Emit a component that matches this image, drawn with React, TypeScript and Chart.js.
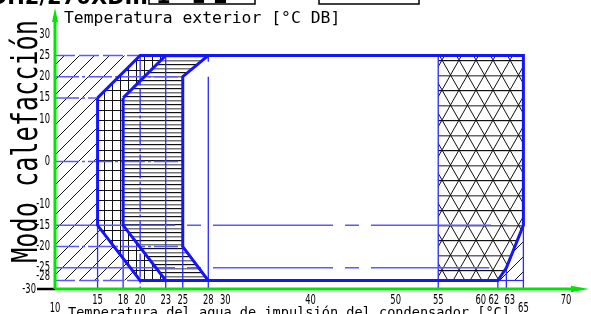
import React, { useEffect, useRef } from "react";
import { Chart, registerables } from "chart.js";

Chart.register(...registerables);

type P = [number, number];

// ---- tick labels ----
const xTickValues = [10, 15, 18, 20, 23, 25, 28, 30, 40, 50, 55, 60, 62, 63, 65, 70];
const xTickLowered = [10, 65];
const yTickValues = [30, 25, 20, 15, 10, 0, -10, -15, -20, -25, -28, -30];

// ---- titles ----
const titleLeft = "Modo calefacción";
const titleY = "Temperatura exterior [°C DB]";
const titleX = "Temperatura del agua de impulsión del condensador [°C]";
const headingText = "DH2/270XDIII";
const headingBox1 = "1 ' ▪ 2";

// ---- hatched regions (x = water temp, y = outdoor temp) ----
const regionDiagonal: P[] = [[10, 25], [20, 25], [15, 15], [15, -15], [20, -28], [10, -28]];
const regionGrid: P[] = [[15, 15], [20, 25], [23, 25], [18, 15], [18, -15], [23, -28], [20, -28], [15, -15]];
const regionHorizontal: P[] = [[18, 15], [23, 25], [28, 25], [25, 20], [25, -20], [28, -28], [23, -28], [18, -15]];
const regionTriangles: P[] = [[55, 25], [65, 25], [65, -15], [63, -25], [62, -28], [55, -28]];
const regionCorner: P[] = [[65, -15], [65, -28], [62, -28], [63, -25]];

// ---- envelopes (thick outlines) ----
const outerEnvelope: P[] = [[15, 15], [20, 25], [65, 25], [65, -15], [63, -25], [62, -28], [20, -28], [15, -15], [15, 15]];
const innerEnvelope: P[] = [[18, 15], [23, 25], [28, 25], [25, 20], [25, -20], [28, -28], [23, -28], [18, -15], [18, 15]];

// ---- thin reference lines ----
const hLine25: P[] = [[10, 25], [20, 25]];
const hLine20: P[] = [[10, 20], [25, 20]];
const hLine15: P[] = [[10, 15], [15, 15]];
const hLine0: P[] = [[10, 0], [25, 0]];
const hLineM15: P[] = [[10, -15], [63, -15]];
const hLineM20: P[] = [[10, -20], [25, -20]];
const hLineM25: P[] = [[10, -25], [61, -25]];
const hLineM28a: P[] = [[10, -28], [20, -28]];
const hLineM28b: P[] = [[62, -28], [65, -28]];
const vLine15: P[] = [[15, -15], [15, -30]];
const vLine18: P[] = [[18, -15], [18, -30]];
const vLine20: P[] = [[20, 25], [20, -30]];
const vLine23: P[] = [[23, 25], [23, -30]];
const vLine25: P[] = [[25, -20], [25, -30]];
const vLine28: P[] = [[28, 20], [28, -30]];
const vLine28top: P[] = [[28, 25], [28, 23.5]];
const vLine55: P[] = [[55, 25], [55, -30]];
const vLine62: P[] = [[62, -28], [62, -30]];
const vLine63: P[] = [[63, -25], [63, -30]];
const vLine65: P[] = [[65, -15], [65, -30]];

const THICK = "#1414ff";
const THIN = "#2a2aff";
const LIGHT = "#5a5aff";
const DASHDOT = [24, 3, 3, 3];
const LONGDASH = [120, 12, 14, 12];

const lineSpecs: { pts: P[]; color: string; width: number; dash?: number[] }[] = [
  { pts: outerEnvelope, color: THICK, width: 3 },
  { pts: innerEnvelope, color: THICK, width: 3 },
  { pts: hLine25, color: LIGHT, width: 1.5, dash: [20, 4] },
  { pts: hLine20, color: LIGHT, width: 1.5, dash: DASHDOT },
  { pts: hLine15, color: LIGHT, width: 1.5, dash: DASHDOT },
  { pts: hLine0, color: LIGHT, width: 1.5, dash: DASHDOT },
  { pts: hLineM15, color: LIGHT, width: 1.5, dash: LONGDASH },
  { pts: hLineM20, color: LIGHT, width: 1.5, dash: DASHDOT },
  { pts: hLineM25, color: LIGHT, width: 1.5, dash: LONGDASH },
  { pts: hLineM28a, color: LIGHT, width: 1.5, dash: [20, 4] },
  { pts: hLineM28b, color: THIN, width: 1.2 },
  { pts: vLine15, color: THIN, width: 1.3 },
  { pts: vLine18, color: THIN, width: 1.3 },
  { pts: vLine20, color: THIN, width: 1.3, dash: DASHDOT },
  { pts: vLine23, color: THIN, width: 1.3 },
  { pts: vLine25, color: THIN, width: 1.3 },
  { pts: vLine28, color: THIN, width: 1.3 },
  { pts: vLine28top, color: THIN, width: 1.3 },
  { pts: vLine55, color: THIN, width: 1.3 },
  { pts: vLine62, color: THIN, width: 1.3 },
  { pts: vLine63, color: THIN, width: 1.3 },
  { pts: vLine65, color: THIN, width: 1.3 },
];

const regionSpecs: { pts: P[]; hatch: string }[] = [
  { pts: regionDiagonal, hatch: "diag" },
  { pts: regionGrid, hatch: "grid" },
  { pts: regionHorizontal, hatch: "horiz" },
  { pts: regionTriangles, hatch: "tri" },
  { pts: regionCorner, hatch: "diag" },
];

const toXY = (pts: P[]) => pts.map(([x, y]) => ({ x, y }));

function makePatterns(ctx: CanvasRenderingContext2D) {
  const mk = (w: number, h: number, draw: (c: CanvasRenderingContext2D) => void) => {
    const cv = document.createElement("canvas");
    cv.width = w;
    cv.height = h;
    const c = cv.getContext("2d")!;
    draw(c);
    return ctx.createPattern(cv, "repeat")!;
  };
  return {
    diag: mk(15, 15, (c) => {
      c.strokeStyle = "#111";
      c.lineWidth = 1;
      c.beginPath();
      c.moveTo(-1, 16);
      c.lineTo(16, -1);
      c.stroke();
    }),
    grid: mk(8, 10, (c) => {
      c.fillStyle = "#111";
      c.fillRect(0, 0, 1, 10);
      c.fillRect(0, 0, 8, 1);
    }),
    horiz: mk(4, 8, (c) => {
      c.fillStyle = "#111";
      c.fillRect(0, 0, 4, 1.2);
      c.fillStyle = "#777";
      c.fillRect(0, 4, 4, 1.5);
    }),
    tri: mk(17, 30, (c) => {
      c.fillStyle = "#111";
      c.fillRect(0, 0, 17, 1.2);
      c.fillStyle = "#666";
      c.fillRect(0, 15, 17, 1.5);
      c.strokeStyle = "#111";
      c.lineWidth = 1;
      c.beginPath();
      c.moveTo(0, 0);
      c.lineTo(17, 30);
      c.moveTo(17, 0);
      c.lineTo(0, 30);
      c.stroke();
    }),
  } as Record<string, CanvasPattern>;
}

const hatchPlugin = {
  id: "hatchRegions",
  beforeDatasetsDraw(chart: any) {
    const ctx: CanvasRenderingContext2D = chart.ctx;
    const pats = makePatterns(ctx);
    chart.data.datasets.forEach((ds: any, i: number) => {
      if (!ds.hatch) return;
      const pts = chart.getDatasetMeta(i).data;
      ctx.save();
      ctx.beginPath();
      pts.forEach((p: any, k: number) => (k ? ctx.lineTo(p.x, p.y) : ctx.moveTo(p.x, p.y)));
      ctx.closePath();
      ctx.fillStyle = pats[ds.hatch];
      ctx.fill();
      ctx.restore();
    });
  },
};

function narrowText(
  ctx: CanvasRenderingContext2D,
  text: string,
  x: number,
  y: number,
  size: number,
  sx: number,
  align: CanvasTextAlign
) {
  ctx.save();
  ctx.translate(x, y);
  ctx.scale(sx, 1);
  ctx.font = `${size}px "DejaVu Sans"`;
  ctx.textAlign = align;
  ctx.textBaseline = "middle";
  ctx.fillStyle = "#000";
  ctx.fillText(text, 0, 0);
  ctx.restore();
}

const xLabelShift: Record<number, number> = { 62: -4, 63: 3.5 };

const decorPlugin = {
  id: "decor",
  afterDraw(chart: any) {
    const ctx: CanvasRenderingContext2D = chart.ctx;
    const xs = chart.scales.x;
    const ys = chart.scales.y;
    const area = chart.chartArea;
    const x0 = xs.getPixelForValue(10);
    const y0 = ys.getPixelForValue(-30);
    const GREEN = "#00e600";

    ctx.save();
    // black tick at -30
    ctx.strokeStyle = "#000";
    ctx.lineWidth = 2.5;
    ctx.beginPath();
    ctx.moveTo(37, y0);
    ctx.lineTo(x0, y0);
    ctx.stroke();

    // green axes
    ctx.strokeStyle = GREEN;
    ctx.fillStyle = GREEN;
    ctx.lineWidth = 3;
    ctx.beginPath();
    ctx.moveTo(x0, y0);
    ctx.lineTo(x0, area.top + 6);
    ctx.moveTo(x0, y0);
    ctx.lineTo(area.right - 8, y0);
    ctx.stroke();
    ctx.beginPath();
    ctx.moveTo(x0, area.top - 2);
    ctx.lineTo(x0 - 3, area.top + 12);
    ctx.lineTo(x0 + 3, area.top + 12);
    ctx.closePath();
    ctx.fill();
    ctx.beginPath();
    ctx.moveTo(area.right + 6, y0);
    ctx.lineTo(area.right - 12, y0 - 3.3);
    ctx.lineTo(area.right - 12, y0 + 3.3);
    ctx.closePath();
    ctx.fill();

    // x tick labels
    xTickValues.forEach((v) => {
      const px = xs.getPixelForValue(v) + (xLabelShift[v] || 0);
      const py = xTickLowered.includes(v) ? 308 : 300;
      narrowText(ctx, String(v), px, py, 13.5, 0.62, "center");
    });
    // y tick labels
    yTickValues.forEach((v) => {
      let py = ys.getPixelForValue(v);
      if (v === -28) py -= 4;
      if (v === -25) py -= 0.5;
      const px = v === -30 ? 36 : 50;
      narrowText(ctx, String(v), px, py, 13.5, 0.62, "right");
    });

    // axis titles
    ctx.fillStyle = "#000";
    ctx.textBaseline = "alphabetic";
    ctx.textAlign = "left";
    ctx.font = '16.4px "DejaVu Sans Mono"';
    ctx.fillText(titleY, 64, 23);
    ctx.font = '13.6px "DejaVu Sans Mono"';
    ctx.fillText(titleX, 68, 317);

    // rotated title
    ctx.save();
    ctx.translate(37, 141.5);
    ctx.rotate(-Math.PI / 2);
    ctx.scale(0.7, 1);
    ctx.font = '36px "DejaVu Sans Mono"';
    ctx.textAlign = "center";
    ctx.textBaseline = "alphabetic";
    ctx.fillText(titleLeft, 0, 0);
    ctx.restore();

    // cropped heading at top
    ctx.font = 'bold 21px "DejaVu Sans"';
    ctx.textAlign = "right";
    ctx.textBaseline = "alphabetic";
    ctx.fillText(headingText, 148, 4);
    ctx.strokeStyle = "#000";
    ctx.lineWidth = 1.5;
    ctx.strokeRect(149, -30, 106, 34);
    ctx.strokeRect(319, -30, 100, 34);
    ctx.textAlign = "left";
    ctx.fillText(headingBox1, 156, 3);
    ctx.restore();
  },
};

export default function App() {
  const ref = useRef<HTMLCanvasElement>(null);
  useEffect(() => {
    document.body.style.margin = "0";
    const canvas = ref.current!;
    const datasets: any[] = [];
    lineSpecs.forEach((s) =>
      datasets.push({
        data: toXY(s.pts),
        showLine: true,
        borderColor: s.color,
        borderWidth: s.width,
        borderDash: s.dash || [],
        borderJoinStyle: "miter",
        pointRadius: 0,
        fill: false,
        tension: 0,
      })
    );
    regionSpecs.forEach((r) =>
      datasets.push({
        data: toXY(r.pts),
        showLine: false,
        pointRadius: 0,
        borderWidth: 0,
        hatch: r.hatch,
      })
    );
    const chart = new Chart(canvas, {
      type: "scatter",
      data: { datasets },
      options: {
        responsive: false,
        animation: false,
        devicePixelRatio: 1,
        layout: { padding: { left: 55, right: 8, top: 10, bottom: 25 } },
        scales: {
          x: { type: "linear", min: 10, max: 72, display: false },
          y: { type: "linear", min: -30, max: 35.7, display: false },
        },
        plugins: { legend: { display: false }, tooltip: { enabled: false } },
      } as any,
      plugins: [hatchPlugin, decorPlugin],
    });
    return () => chart.destroy();
  }, []);
  return (
    <canvas
      ref={ref}
      width={591}
      height={314}
      style={{ display: "block", width: 591, height: 314 }}
    />
  );
}
